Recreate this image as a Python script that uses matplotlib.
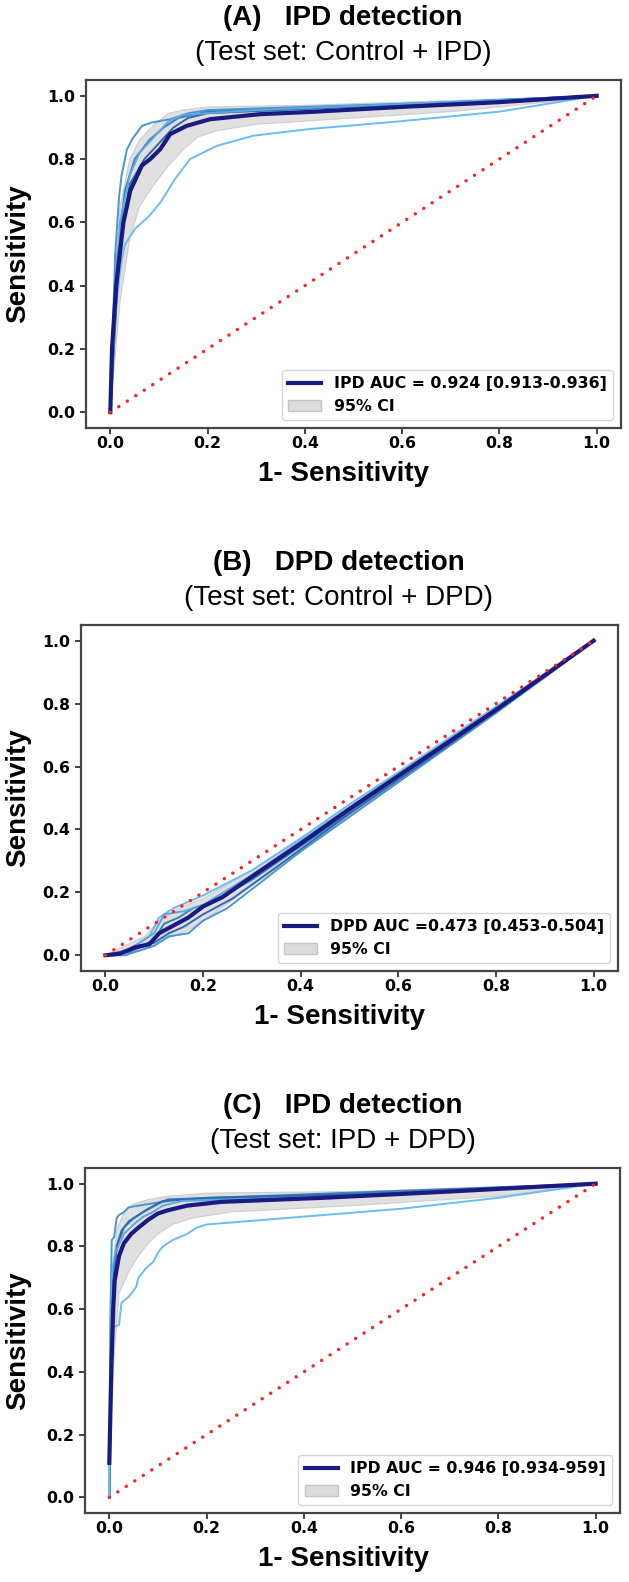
import numpy as np
import matplotlib.pyplot as plt
from matplotlib.lines import Line2D
from matplotlib.patches import Patch

# ---- panel A: IPD detection (Control + IPD)
a_mean_fpr = [0, 0.0035, 0.012, 0.027, 0.041, 0.065, 0.082, 0.103, 0.123, 0.157, 0.205, 0.308, 0.41, 0.6, 0.8, 1.0]
a_mean_tpr = [0, 0.2, 0.4, 0.6, 0.7, 0.78, 0.8, 0.832, 0.879, 0.905, 0.926, 0.942, 0.949, 0.965, 0.98, 1.0]
a_up_fpr = [0, 0.01, 0.02, 0.04, 0.06, 0.09, 0.12, 0.15, 0.2, 0.4, 0.7, 1.0]
a_up_tpr = [0, 0.45, 0.65, 0.8, 0.86, 0.91, 0.945, 0.955, 0.965, 0.97, 0.985, 1.0]
a_lo_fpr = [0, 0.02, 0.04, 0.06, 0.09, 0.12, 0.15, 0.18, 0.22, 0.3, 0.5, 0.7, 0.9, 1.0]
a_lo_tpr = [0, 0.35, 0.55, 0.65, 0.72, 0.78, 0.83, 0.87, 0.89, 0.91, 0.93, 0.95, 0.98, 1.0]
a_fold1_fpr = [0, 0.01, 0.018, 0.024, 0.03, 0.051, 0.08, 0.103, 0.133, 0.164, 0.219, 0.294, 0.41, 0.6, 0.8, 1.0]
a_fold1_tpr = [0, 0.3, 0.42, 0.484, 0.53, 0.58, 0.62, 0.663, 0.737, 0.8, 0.842, 0.874, 0.895, 0.92, 0.95, 1.0]
a_fold2_fpr = [0, 0.01, 0.018, 0.023, 0.034, 0.045, 0.065, 0.086, 0.123, 0.16, 0.2, 0.4, 0.7, 1.0]
a_fold2_tpr = [0, 0.5, 0.68, 0.747, 0.83, 0.863, 0.905, 0.916, 0.926, 0.945, 0.955, 0.965, 0.98, 1.0]
a_fold3_fpr = [0, 0.015, 0.03, 0.05, 0.08, 0.11, 0.14, 0.2, 0.4, 1.0]
a_fold3_tpr = [0, 0.5, 0.7, 0.8, 0.86, 0.9, 0.93, 0.95, 0.96, 1.0]
a_fold4_fpr = [0, 0.02, 0.04, 0.07, 0.1, 0.13, 0.16, 0.2, 0.5, 1.0]
a_fold4_tpr = [0, 0.55, 0.72, 0.8, 0.85, 0.9, 0.93, 0.945, 0.965, 1.0]
a_fold5_fpr = [0, 0.02, 0.04, 0.06, 0.09, 0.12, 0.15, 0.3, 1.0]
a_fold5_tpr = [0, 0.6, 0.75, 0.82, 0.87, 0.92, 0.94, 0.955, 1.0]

# ---- panel B: DPD detection (Control + DPD)
b_mean_fpr = [0, 0.03, 0.06, 0.09, 0.11, 0.14, 0.17, 0.2, 0.24, 0.3, 0.4, 0.5, 0.6, 0.7, 0.8, 0.9, 1.0]
b_mean_tpr = [0, 0.005, 0.025, 0.035, 0.07, 0.095, 0.12, 0.155, 0.185, 0.25, 0.355, 0.465, 0.57, 0.675, 0.78, 0.89, 1.0]
b_up_fpr = [0, 0.08, 0.11, 0.15, 0.2, 0.3, 0.5, 0.7, 0.9, 1.0]
b_up_tpr = [0, 0.06, 0.11, 0.15, 0.18, 0.27, 0.48, 0.69, 0.895, 1.0]
b_lo_fpr = [0, 0.08, 0.12, 0.17, 0.22, 0.3, 0.5, 0.7, 0.9, 1.0]
b_lo_tpr = [0, 0.02, 0.05, 0.08, 0.13, 0.22, 0.445, 0.66, 0.88, 1.0]
b_fold1_fpr = [0, 0.05, 0.09, 0.11, 0.14, 0.2, 0.3, 0.4, 0.5, 0.6, 0.8, 1.0]
b_fold1_tpr = [0, 0.02, 0.06, 0.12, 0.15, 0.19, 0.27, 0.37, 0.48, 0.58, 0.79, 1.0]
b_fold2_fpr = [0, 0.04, 0.08, 0.1, 0.13, 0.17, 0.2, 0.25, 0.3, 0.4, 0.5, 0.6, 0.8, 1.0]
b_fold2_tpr = [0, 0.0, 0.02, 0.03, 0.06, 0.07, 0.11, 0.15, 0.21, 0.33, 0.44, 0.55, 0.77, 1.0]
b_fold3_fpr = [0, 0.05, 0.1, 0.12, 0.15, 0.18, 0.22, 0.3, 0.45, 0.6, 0.8, 1.0]
b_fold3_tpr = [0, 0.01, 0.05, 0.1, 0.12, 0.15, 0.17, 0.24, 0.4, 0.565, 0.775, 1.0]
b_fold4_fpr = [0, 0.06, 0.1, 0.13, 0.16, 0.2, 0.26, 0.35, 0.5, 0.7, 1.0]
b_fold4_tpr = [0, 0.02, 0.04, 0.07, 0.09, 0.13, 0.18, 0.28, 0.45, 0.665, 1.0]
b_fold5_fpr = [0, 0.04, 0.1, 0.12, 0.16, 0.2, 0.3, 0.5, 0.7, 1.0]
b_fold5_tpr = [0, 0.01, 0.07, 0.13, 0.14, 0.16, 0.255, 0.47, 0.68, 1.0]

# ---- panel C: IPD detection (IPD + DPD)
c_mean_fpr = [0, 0.004, 0.008, 0.011, 0.02, 0.03, 0.045, 0.06, 0.08, 0.1, 0.12, 0.16, 0.23, 0.44, 0.7, 1.0]
c_mean_tpr = [0.11, 0.4, 0.6, 0.69, 0.77, 0.81, 0.84, 0.86, 0.885, 0.905, 0.915, 0.93, 0.942, 0.955, 0.975, 1.0]
c_up_fpr = [0, 0.005, 0.015, 0.03, 0.05, 0.08, 0.12, 0.2, 0.5, 0.8, 1.0]
c_up_tpr = [0.11, 0.7, 0.85, 0.91, 0.935, 0.95, 0.96, 0.97, 0.975, 0.99, 1.0]
c_lo_fpr = [0, 0.01, 0.02, 0.04, 0.06, 0.08, 0.1, 0.13, 0.17, 0.25, 0.5, 0.8, 1.0]
c_lo_tpr = [0.11, 0.45, 0.65, 0.72, 0.77, 0.81, 0.84, 0.87, 0.89, 0.91, 0.93, 0.96, 1.0]
c_fold1_fpr = [0, 0.005, 0.02, 0.025, 0.04, 0.055, 0.06, 0.075, 0.09, 0.1, 0.11, 0.13, 0.16, 0.18, 0.2, 0.4, 0.6, 0.8, 1.0]
c_fold1_tpr = [0, 0.54, 0.55, 0.62, 0.64, 0.67, 0.7, 0.73, 0.75, 0.78, 0.8, 0.82, 0.84, 0.86, 0.87, 0.895, 0.92, 0.955, 1.0]
c_fold2_fpr = [0, 0.002, 0.005, 0.01, 0.015, 0.02, 0.03, 0.04, 0.06, 0.1, 0.15, 0.4, 1.0]
c_fold2_tpr = [0, 0.56, 0.82, 0.83, 0.89, 0.9, 0.91, 0.925, 0.93, 0.94, 0.95, 0.96, 1.0]
c_fold3_fpr = [0, 0.005, 0.01, 0.02, 0.03, 0.05, 0.07, 0.1, 0.12, 0.3, 1.0]
c_fold3_tpr = [0, 0.6, 0.75, 0.82, 0.86, 0.89, 0.91, 0.935, 0.95, 0.96, 1.0]
c_fold4_fpr = [0, 0.006, 0.015, 0.025, 0.04, 0.06, 0.08, 0.11, 0.2, 0.6, 1.0]
c_fold4_tpr = [0, 0.65, 0.8, 0.85, 0.88, 0.9, 0.92, 0.945, 0.955, 0.97, 1.0]
c_fold5_fpr = [0, 0.004, 0.012, 0.03, 0.05, 0.07, 0.09, 0.11, 0.15, 0.5, 1.0]
c_fold5_tpr = [0, 0.7, 0.78, 0.84, 0.87, 0.895, 0.91, 0.93, 0.945, 0.96, 1.0]

titles = ['(A)   IPD detection', '(B)   DPD detection', '(C)   IPD detection']
subtitles = ['(Test set: Control + IPD)', '(Test set: Control + DPD)', '(Test set: IPD + DPD)']
auc_labels = ['IPD AUC = 0.924 [0.913-0.936]', 'DPD AUC =0.473 [0.453-0.504]', 'IPD AUC = 0.946 [0.934-959]']

fold_colors = ['#6cbcee', '#4a95d4', '#3a7fc2', '#2f6aae', '#5aa8e0']
mean_color = '#1a1a80'
sans = 'Liberation Sans'

panels = [
    dict(mean=(a_mean_fpr, a_mean_tpr), up=(a_up_fpr, a_up_tpr), lo=(a_lo_fpr, a_lo_tpr),
         folds=[(a_fold1_fpr, a_fold1_tpr), (a_fold2_fpr, a_fold2_tpr), (a_fold3_fpr, a_fold3_tpr),
                (a_fold4_fpr, a_fold4_tpr), (a_fold5_fpr, a_fold5_tpr)]),
    dict(mean=(b_mean_fpr, b_mean_tpr), up=(b_up_fpr, b_up_tpr), lo=(b_lo_fpr, b_lo_tpr),
         folds=[(b_fold1_fpr, b_fold1_tpr), (b_fold2_fpr, b_fold2_tpr), (b_fold3_fpr, b_fold3_tpr),
                (b_fold4_fpr, b_fold4_tpr), (b_fold5_fpr, b_fold5_tpr)]),
    dict(mean=(c_mean_fpr, c_mean_tpr), up=(c_up_fpr, c_up_tpr), lo=(c_lo_fpr, c_lo_tpr),
         folds=[(c_fold1_fpr, c_fold1_tpr), (c_fold2_fpr, c_fold2_tpr), (c_fold3_fpr, c_fold3_tpr),
                (c_fold4_fpr, c_fold4_tpr), (c_fold5_fpr, c_fold5_tpr)]),
]

# axes rectangles in pixels (left, top, right, bottom) of a 629x1582 canvas
W, H = 629, 1582
boxes = [(86, 80, 621, 428), (81, 625, 618, 971), (85, 1168, 620, 1513)]
text_cx = [343, 339, 343]   # horizontal centre of titles and x labels

fig = plt.figure(figsize=(W / 100, H / 100), dpi=100)

for i, p in enumerate(panels):
    l, t, r, b = boxes[i]
    ax = fig.add_axes([l / W, 1 - b / H, (r - l) / W, (b - t) / H])
    ah, aw = b - t, r - l
    cx = (text_cx[i] - l) / aw

    # 95% CI band
    up_x, up_y = np.array(p['up'][0]), np.array(p['up'][1])
    lo_x, lo_y = np.array(p['lo'][0]), np.array(p['lo'][1])
    ax.fill(np.concatenate([up_x, lo_x[::-1]]), np.concatenate([up_y, lo_y[::-1]]),
            facecolor='#d4d4d4', edgecolor='#c0c0c0', alpha=0.7, lw=0.8, zorder=1)

    # single runs
    for k, (fx, fy) in enumerate(p['folds']):
        ax.plot(fx, fy, color=fold_colors[k], lw=1.4, zorder=2)

    # mean curve
    ax.plot(p['mean'][0], p['mean'][1], color=mean_color, lw=3, zorder=3)
    if i == 2:
        ax.plot([0, 0], [0, c_mean_tpr[0]], color='#6cbcee', lw=1.4, zorder=2)

    # chance line
    ax.plot([0, 1], [0, 1], color='#ff2222', lw=2.5, linestyle=(0, (0.01, 2.9)),
            dash_capstyle='round', zorder=4)

    ax.set_xlim(-0.05, 1.05)
    ax.set_ylim(-0.05, 1.05)
    ax.set_xticks([0, 0.2, 0.4, 0.6, 0.8, 1.0])
    ax.set_yticks([0, 0.2, 0.4, 0.6, 0.8, 1.0])
    ax.tick_params(labelsize=11.3, width=1.3, length=4, color='#333333')
    ax.tick_params(axis='x', pad=2)
    for lab in ax.get_xticklabels() + ax.get_yticklabels():
        lab.set_fontweight('bold')
        lab.set_family('DejaVu Sans')
    for s in ax.spines.values():
        s.set_linewidth(1.6)
        s.set_color('#444444')

    ax.set_xlabel('1- Sensitivity', fontsize=20, fontweight='bold', family=sans, va='center')
    ax.set_ylabel('Sensitivity', fontsize=20, fontweight='bold', family=sans, va='center')
    ax.xaxis.set_label_coords(cx, -46 / ah)
    ax.yaxis.set_label_coords((18 - l) / aw, 0.5)

    ax.text(cx, 1 + 62 / ah, titles[i], transform=ax.transAxes, ha='center', va='center',
            fontsize=20, fontweight='bold', family=sans)
    ax.text(cx, 1 + 27 / ah, subtitles[i], transform=ax.transAxes, ha='center', va='center',
            fontsize=20, family=sans)

    handles = [Line2D([0], [0], color=mean_color, lw=3),
               Patch(facecolor='#dcdcdc', edgecolor='#c4c4c4')]
    ax.legend(handles, [auc_labels[i], '95% CI'], loc='lower right',
              prop={'family': 'DejaVu Sans', 'weight': 'bold', 'size': 11.3},
              handlelength=2.1, handletextpad=0.8, framealpha=1, edgecolor='#d6d6d6',
              borderaxespad=0.5)

fig.savefig('out.png', dpi=100)
